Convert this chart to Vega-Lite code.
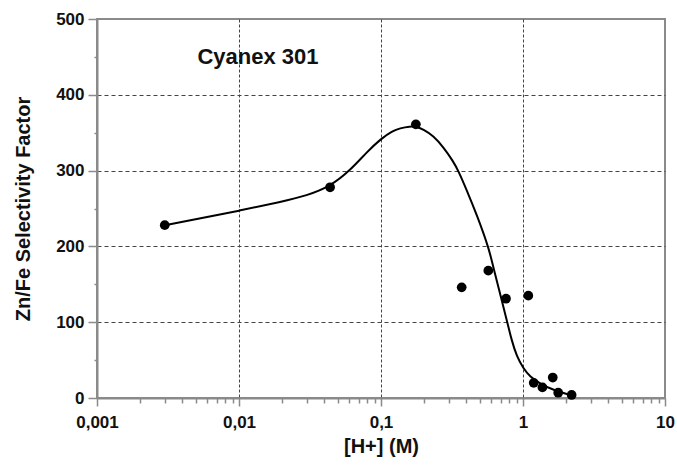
{
  "$schema": "https://vega.github.io/schema/vega-lite/v6.json",
  "width": 568,
  "height": 379,
  "autosize": {"type": "none"},
  "padding": {"left": 97, "top": 19, "right": 12, "bottom": 67},
  "background": "white",
  "config": {
    "view": {"stroke": "#8a8a8a", "strokeWidth": 2},
    "font": "Liberation Sans"
  },
  "datasets": {
    "points": [
      {"h": 0.003, "sf": 228},
      {"h": 0.0438, "sf": 278},
      {"h": 0.176, "sf": 361},
      {"h": 0.370, "sf": 146},
      {"h": 0.570, "sf": 168},
      {"h": 0.759, "sf": 131},
      {"h": 1.09, "sf": 135},
      {"h": 1.19, "sf": 20},
      {"h": 1.37, "sf": 14},
      {"h": 1.62, "sf": 27},
      {"h": 1.77, "sf": 7},
      {"h": 2.20, "sf": 4}
    ],
    "curve": [
      {"h": 0.003, "sf": 228},
      {"h": 0.005, "sf": 236},
      {"h": 0.01, "sf": 247},
      {"h": 0.02, "sf": 259},
      {"h": 0.03, "sf": 267},
      {"h": 0.0438, "sf": 279},
      {"h": 0.0605, "sf": 300},
      {"h": 0.08, "sf": 325},
      {"h": 0.1, "sf": 342},
      {"h": 0.12, "sf": 352},
      {"h": 0.136, "sf": 356},
      {"h": 0.16, "sf": 358.5},
      {"h": 0.178, "sf": 358},
      {"h": 0.2, "sf": 354},
      {"h": 0.233, "sf": 346},
      {"h": 0.275, "sf": 331},
      {"h": 0.323, "sf": 312},
      {"h": 0.35, "sf": 300},
      {"h": 0.402, "sf": 274},
      {"h": 0.472, "sf": 242},
      {"h": 0.577, "sf": 197},
      {"h": 0.618, "sf": 172},
      {"h": 0.689, "sf": 138},
      {"h": 0.768, "sf": 103},
      {"h": 0.832, "sf": 76},
      {"h": 0.903, "sf": 55},
      {"h": 1.005, "sf": 39},
      {"h": 1.12, "sf": 28},
      {"h": 1.32, "sf": 19},
      {"h": 1.63, "sf": 10.5},
      {"h": 2.14, "sf": 4},
      {"h": 2.25, "sf": 3}
    ],
    "label": [
      {"h": 0.0136, "sf": 450, "text": "Cyanex 301"}
    ]
  },
  "encoding": {
    "x": {
      "field": "h",
      "type": "quantitative",
      "scale": {"type": "log", "domain": [0.001, 10], "nice": false},
      "axis": {
        "title": "[H+] (M)",
        "titleFont": "Liberation Sans",
        "titleFontSize": 20,
        "titleFontWeight": "bold",
        "titleColor": "#111",
        "titlePadding": 6,
        "values": [0.001, 0.002, 0.003, 0.004, 0.005, 0.006, 0.007, 0.008, 0.009,
                   0.01, 0.02, 0.03, 0.04, 0.05, 0.06, 0.07, 0.08, 0.09,
                   0.1, 0.2, 0.3, 0.4, 0.5, 0.6, 0.7, 0.8, 0.9,
                   1, 2, 3, 4, 5, 6, 7, 8, 9, 10],
        "labelExpr": "abs(log(datum.value) / LN10 - round(log(datum.value) / LN10)) < 0.000001 ? replace(toString(datum.value), '.', ',') : ''",
        "labelFont": "Liberation Sans",
        "labelFontSize": 17,
        "labelFontWeight": "bold",
        "labelColor": "#111",
        "labelPadding": 8,
        "labelFlush": false,
        "labelOverlap": false,
        "domainColor": "#8a8a8a",
        "domainWidth": 2,
        "tickColor": "#8a8a8a",
        "tickWidth": 1.5,
        "tickSize": {"condition": {"test": "abs(log(datum.value) / LN10 - round(log(datum.value) / LN10)) < 0.000001", "value": 8}, "value": 5},
        "grid": true,
        "gridColor": "#444",
        "gridDash": [3, 2],
        "gridWidth": 1,
        "gridOpacity": {"condition": {"test": "abs(log(datum.value) / LN10 - round(log(datum.value) / LN10)) < 0.000001 && datum.value > 0.005 && datum.value < 5", "value": 1}, "value": 0}
      }
    },
    "y": {
      "field": "sf",
      "type": "quantitative",
      "scale": {"domain": [0, 500], "nice": false},
      "axis": {
        "title": "Zn/Fe Selectivity Factor",
        "titleFont": "Liberation Sans",
        "titleFontSize": 20,
        "titleFontWeight": "bold",
        "titleColor": "#111",
        "titlePadding": 22,
        "values": [0, 50, 100, 150, 200, 250, 300, 350, 400, 450, 500],
        "labelExpr": "datum.value % 100 === 0 ? toString(datum.value) : ''",
        "labelFont": "Liberation Sans",
        "labelFontSize": 17,
        "labelFontWeight": "bold",
        "labelColor": "#111",
        "labelPadding": 4,
        "labelOverlap": false,
        "domainColor": "#8a8a8a",
        "domainWidth": 2,
        "tickColor": "#8a8a8a",
        "tickWidth": 1.5,
        "tickSize": {"condition": {"test": "datum.value % 100 === 0", "value": 9}, "value": 3},
        "grid": true,
        "gridColor": "#444",
        "gridDash": [4, 3],
        "gridWidth": 1,
        "gridOpacity": {"condition": {"test": "datum.value % 100 === 0 && datum.value > 0 && datum.value < 500", "value": 1}, "value": 0}
      }
    }
  },
  "layer": [
    {
      "data": {"name": "curve"},
      "mark": {"type": "line", "color": "black", "strokeWidth": 2, "interpolate": "basis"},
      "encoding": {}
    },
    {
      "data": {"name": "points"},
      "mark": {"type": "point", "filled": true, "color": "black", "size": 95, "opacity": 1}
    },
    {
      "data": {"name": "label"},
      "mark": {"type": "text", "font": "Liberation Sans", "fontSize": 22, "fontWeight": "bold", "color": "#111", "align": "center", "baseline": "middle"},
      "encoding": {"text": {"field": "text"}}
    }
  ]
}
